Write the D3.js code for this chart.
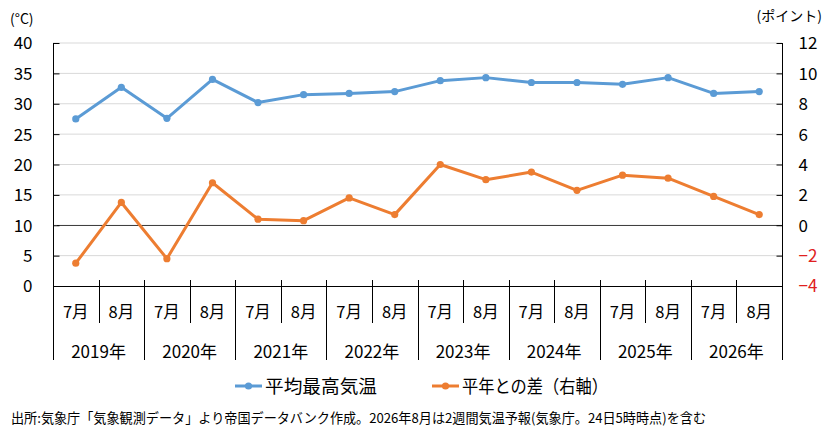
<!DOCTYPE html>
<html><head><meta charset="utf-8">
<script src="https://cdn.jsdelivr.net/npm/d3@7"></script>
<style>
body{margin:0;background:#fff;}
text{font-family:"Noto Sans CJK JP","Noto Sans",sans-serif;fill:#000;}
</style></head>
<body>
<svg id="c" width="835" height="438"></svg>
<script>
const months = ["7月","8月","7月","8月","7月","8月","7月","8月","7月","8月","7月","8月","7月","8月","7月","8月"];
const years = ["2019年","2020年","2021年","2022年","2023年","2024年","2025年","2026年"];
const maxTemp = [27.5,32.7,27.6,34.0,30.2,31.5,31.7,32.0,33.8,34.3,33.5,33.5,33.2,34.3,31.7,32.0];
const diff = [-2.5,1.5,-2.2,2.8,0.4,0.3,1.8,0.7,4.0,3.0,3.5,2.3,3.3,3.1,1.9,0.7];
const leftTicks = [0,5,10,15,20,25,30,35,40];
const rightTicks = [-4,-2,0,2,4,6,8,10,12];
const seriesNames = ["平均最高気温","平年との差（右軸）"];
const colors = ["#5b9bd5","#ed7d31"];

const svg = d3.select("#c");
const L=53, R=782, T=43, B=286;
const idx = d3.range(months.length);
const x = d3.scaleBand().domain(idx).range([L,R]).padding(0);
const cx = i => x(i)+x.bandwidth()/2;
const yL = d3.scaleLinear().domain([0,40]).range([B,T]);
const yR = d3.scaleLinear().domain([-4,12]).range([B,T]);

// gridlines
svg.append("g").selectAll("line").data(leftTicks.filter(d=>d>0)).join("line")
  .attr("x1",L).attr("x2",R).attr("y1",d=>yL(d)).attr("y2",d=>yL(d))
  .attr("stroke","#d9d9d9").attr("stroke-width",1);

// zero line of right axis
svg.append("line").attr("x1",L+4).attr("x2",R).attr("y1",Math.round(yR(0))+0.5).attr("y2",Math.round(yR(0))+0.5)
  .attr("stroke","#404040").attr("stroke-width",1.2);

// left axis
const gl = svg.append("g").attr("transform",`translate(${L+0.5},0)`)
  .call(d3.axisLeft(yL).tickValues(leftTicks).tickSize(-6).tickPadding(21).tickFormat(d3.format("d")));
gl.select(".domain").remove();
gl.selectAll(".tick line").attr("stroke","#000");
gl.selectAll(".tick text").attr("font-size",17).attr("fill","#000").attr("dy","0.35em").attr("y",0);
svg.append("line").attr("x1",L+0.5).attr("x2",L+0.5).attr("y1",T).attr("y2",360).attr("stroke","#000");

// right axis
const gr = svg.append("g").attr("transform",`translate(${R+0.5},0)`)
  .call(d3.axisRight(yR).tickValues(rightTicks).tickSize(-6).tickPadding(16).tickFormat(d3.format("d")));
gr.select(".domain").remove();
gr.selectAll(".tick line").attr("stroke","#000");
gr.selectAll(".tick text").attr("font-size",17).attr("dy","0.35em").attr("y",0)
  .style("fill",d=>d<0?"#e02020":"#000");
svg.append("line").attr("x1",R+0.5).attr("x2",R+0.5).attr("y1",T).attr("y2",360).attr("stroke","#000");

// bottom axis
svg.append("line").attr("x1",L).attr("x2",R+1).attr("y1",B+0.5).attr("y2",B+0.5).attr("stroke","#000");
// dividers
svg.append("g").selectAll("line").data(idx.slice(1)).join("line")
  .attr("x1",i=>Math.round(x(i))+0.5).attr("x2",i=>Math.round(x(i))+0.5)
  .attr("y1",B-6).attr("y2",i=>i%2===0?360:323).attr("stroke","#000");

// month labels
svg.append("g").selectAll("text").data(idx).join("text")
  .attr("x",i=>cx(i)).attr("y",311).attr("text-anchor","middle").attr("dominant-baseline","central")
  .attr("font-size",16.5).text(i=>months[i]);
// year labels
svg.append("g").selectAll("text").data(years).join("text")
  .attr("x",(d,j)=>(x(2*j)+x(2*j+1)+x.bandwidth())/2).attr("y",350).attr("text-anchor","middle")
  .attr("dominant-baseline","central").attr("font-size",17).text(d=>d);

// series
const series = [
  {vals:maxTemp, y:yL, color:colors[0]},
  {vals:diff, y:yR, color:colors[1]}
];
series.forEach(s=>{
  const line = d3.line().x((d,i)=>cx(i)).y(d=>s.y(d));
  svg.append("path").datum(s.vals).attr("d",line).attr("fill","none")
    .attr("stroke",s.color).attr("stroke-width",3).attr("stroke-linejoin","round");
  svg.append("g").selectAll("circle").data(s.vals).join("circle")
    .attr("cx",(d,i)=>cx(i)).attr("cy",d=>s.y(d)).attr("r",3.6).attr("fill",s.color);
});

// units
svg.append("text").attr("x",10).attr("y",18).attr("dominant-baseline","central").attr("font-size",14).text("(°C)");
svg.append("text").attr("x",822).attr("y",15).attr("text-anchor","end").attr("dominant-baseline","central").attr("font-size",14).text("(ポイント)");

// legend
const legX = [235,432];
const legW = [112,146];
seriesNames.forEach((n,k)=>{
  const g = svg.append("g");
  g.append("line").attr("x1",legX[k]).attr("x2",legX[k]+27).attr("y1",386).attr("y2",386)
    .attr("stroke",colors[k]).attr("stroke-width",3);
  g.append("circle").attr("cx",legX[k]+13.5).attr("cy",386).attr("r",3.6).attr("fill",colors[k]);
  g.append("text").attr("x",legX[k]+30).attr("y",385).attr("dominant-baseline","central")
    .attr("font-size",18).attr("textLength",legW[k]).attr("lengthAdjust","spacingAndGlyphs").text(n);
});

// footnote
svg.append("text").attr("x",11).attr("y",417).attr("dominant-baseline","central").attr("font-size",13.5)
  .attr("textLength",695).attr("lengthAdjust","spacingAndGlyphs")
  .text("出所:気象庁「気象観測データ」より帝国データバンク作成。2026年8月は2週間気温予報(気象庁。24日5時時点)を含む");
</script>
</body></html>
